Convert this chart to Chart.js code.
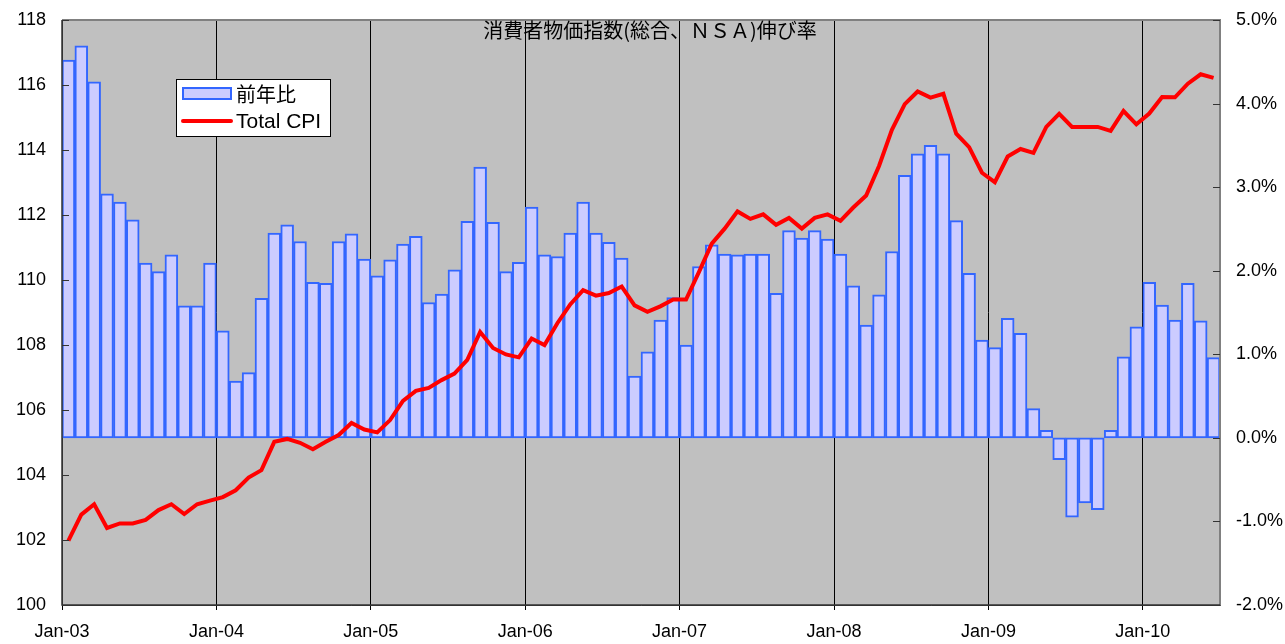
<!DOCTYPE html>
<html><head><meta charset="utf-8">
<script src="https://cdn.jsdelivr.net/npm/chart.js@4.4.1/dist/chart.umd.min.js"></script>
<style>html,body{margin:0;padding:0;background:#fff}#wrap{width:1285px;height:644px;position:relative}</style>
</head><body><div id="wrap"><canvas id="c" width="1285" height="644"></canvas></div>
<script>
const tickLabels = ['Jan-03','Jan-04','Jan-05','Jan-06','Jan-07','Jan-08','Jan-09','Jan-10'];
const titleText = '消費者物価指数(総合、ＮＳＡ)伸び率';
const legendLabels = ['前年比', 'Total CPI'];
// 前年比 (% YoY), Jan-03 .. Jun-10
const yoy = [
  4.52, 4.69, 4.26, 2.92, 2.82, 2.61, 2.09, 1.99, 2.19, 1.58, 1.58, 2.09,
  1.28, 0.68, 0.78, 1.67, 2.45, 2.55, 2.35, 1.86, 1.85, 2.35, 2.44, 2.14,
  1.94, 2.13, 2.32, 2.41, 1.62, 1.72, 2.01, 2.59, 3.24, 2.58, 1.99, 2.10,
  2.76, 2.19, 2.17, 2.45, 2.82, 2.45, 2.34, 2.15, 0.74, 1.03, 1.41, 1.68,
  1.11, 2.05, 2.31, 2.20, 2.19, 2.20, 2.20, 1.73, 2.48, 2.39, 2.48, 2.38,
  2.20, 1.82, 1.35, 1.71, 2.23, 3.14, 3.40, 3.50, 3.40, 2.60, 1.97, 1.17,
  1.08, 1.43, 1.25, 0.35, 0.09, -0.26, -0.95, -0.78, -0.86, 0.09, 0.97, 1.33,
  1.86, 1.59, 1.41, 1.85, 1.40, 0.96
];
// Total CPI index, Jan-03 .. Jun-10
const cpi = [
  101.98, 102.78, 103.10, 102.37, 102.51, 102.51, 102.62, 102.92, 103.10, 102.80, 103.10, 103.21,
  103.32, 103.53, 103.92, 104.15, 105.02, 105.11, 104.99, 104.79, 105.02, 105.23, 105.60, 105.40,
  105.31, 105.69, 106.28, 106.59, 106.68, 106.92, 107.12, 107.54, 108.40, 107.91, 107.71, 107.62,
  108.20, 108.00, 108.67, 109.25, 109.69, 109.52, 109.60, 109.80, 109.22, 109.02, 109.19, 109.40,
  109.40, 110.24, 111.12, 111.58, 112.11, 111.88, 112.02, 111.70, 111.91, 111.58, 111.91, 112.02,
  111.82, 112.23, 112.60, 113.51, 114.62, 115.41, 115.80, 115.61, 115.73, 114.50, 114.09, 113.30,
  113.01, 113.80, 114.03, 113.91, 114.71, 115.11, 114.71, 114.71, 114.71, 114.59, 115.20, 114.79,
  115.12, 115.63, 115.62, 116.04, 116.33, 116.22
];

const LATIN = '"Liberation Sans", Arial, sans-serif';
const CJK = '"Noto Sans CJK JP", "Liberation Sans", sans-serif';
const BAR_FILL = '#CCCCFF', BAR_EDGE = '#3366FF', LINE_COL = '#FF0000';

const bgPlugin = {
  id: 'bg',
  beforeDraw(chart) {
    const {ctx, chartArea: a} = chart;
    ctx.save();
    ctx.fillStyle = '#C0C0C0';
    ctx.fillRect(a.left, a.top, a.right - a.left, a.bottom - a.top);
    ctx.restore();
  }
};

const overlayPlugin = {
  id: 'overlay',
  afterDraw(chart) {
    const {ctx, chartArea: a} = chart;
    ctx.save();
    // frame
    ctx.strokeStyle = '#808080'; ctx.lineWidth = 2;
    ctx.beginPath(); ctx.moveTo(a.left, a.top); ctx.lineTo(a.right, a.top); ctx.lineTo(a.right, a.bottom); ctx.stroke();
    ctx.strokeStyle = '#333'; ctx.lineWidth = 1.5;
    ctx.beginPath(); ctx.moveTo(a.left, a.top); ctx.lineTo(a.left, a.bottom); ctx.lineTo(a.right, a.bottom); ctx.stroke();
    // inward ticks
    ctx.strokeStyle = '#333'; ctx.lineWidth = 1;
    const yl = chart.scales.y, yr = chart.scales.y1;
    yl.ticks.forEach(t => { const p = Math.round(yl.getPixelForValue(t.value)) + 0.5; ctx.beginPath(); ctx.moveTo(a.left, p); ctx.lineTo(a.left + 7, p); ctx.stroke(); });
    yr.ticks.forEach(t => { const p = Math.round(yr.getPixelForValue(t.value)) + 0.5; ctx.beginPath(); ctx.moveTo(a.right, p); ctx.lineTo(a.right - 7, p); ctx.stroke(); });
    // title
    ctx.fillStyle = '#000';
    ctx.font = '20px ' + CJK;
    ctx.textAlign = 'center'; ctx.textBaseline = 'middle';
    ctx.fillText(titleText, 650, 30);
    // legend
    ctx.fillStyle = '#fff'; ctx.fillRect(176, 79, 155, 58);
    ctx.strokeStyle = '#000'; ctx.lineWidth = 1; ctx.strokeRect(176.5, 79.5, 154, 57);
    ctx.fillStyle = BAR_FILL; ctx.fillRect(183, 88, 48, 11);
    ctx.strokeStyle = BAR_EDGE; ctx.lineWidth = 2; ctx.strokeRect(183, 88, 48, 11);
    ctx.strokeStyle = LINE_COL; ctx.lineWidth = 4; ctx.lineCap = 'round';
    ctx.beginPath(); ctx.moveTo(183, 121); ctx.lineTo(231, 121); ctx.stroke();
    ctx.fillStyle = '#000'; ctx.textAlign = 'left'; ctx.textBaseline = 'middle';
    ctx.font = '20px ' + CJK; ctx.fillText(legendLabels[0], 236, 94);
    ctx.font = '21px ' + LATIN; ctx.fillText(legendLabels[1], 236, 122);
    ctx.restore();
  }
};

new Chart(document.getElementById('c'), {
  type: 'bar',
  data: {
    datasets: [
      { type: 'line', label: legendLabels[1], data: cpi.map((v, i) => ({x: i + 0.5, y: v})), yAxisID: 'y',
        borderColor: LINE_COL, borderWidth: 4, pointRadius: 0, tension: 0, fill: false, order: 0 },
      { type: 'bar', label: legendLabels[0], data: yoy.map((v, i) => ({x: i + 0.5, y: v})), yAxisID: 'y1',
        backgroundColor: BAR_FILL, borderColor: BAR_EDGE, borderWidth: 2, borderSkipped: false,
        barPercentage: 1, categoryPercentage: 1, order: 1 }
    ]
  },
  options: {
    responsive: false, animation: false,
    layout: {padding: {top: 20, left: 0, right: 0, bottom: 0}},
    plugins: {legend: {display: false}, title: {display: false}, tooltip: {enabled: false}},
    scales: {
      x: {
        type: 'linear', min: 0, max: 90, offset: false,
        afterBuildTicks: s => { s.ticks = tickLabels.map((t, k) => ({value: k * 12})); },
        afterFit: s => { s.height = 39; s.paddingLeft = 0; s.paddingRight = 0; },
        ticks: {callback: v => tickLabels[Math.round(v / 12)], autoSkip: false, maxRotation: 0, padding: 11,
                font: {family: LATIN, size: 18}, color: '#000'},
        grid: {display: true, color: '#000', lineWidth: 1, offset: false, drawTicks: true, tickLength: 5},
        border: {display: true, color: '#333'}
      },
      y: {
        position: 'left', min: 100, max: 118,
        afterFit: s => { s.width = 62; s.paddingTop = 0; s.paddingBottom = 0; },
        ticks: {stepSize: 2, padding: 16, font: {family: LATIN, size: 18}, color: '#000'},
        grid: {display: false, drawTicks: false}, border: {display: true, color: '#333'}
      },
      y1: {
        position: 'right', min: -2, max: 5,
        afterFit: s => { s.width = 65; s.paddingTop = 0; s.paddingBottom = 0; },
        ticks: {stepSize: 1, padding: 16, callback: v => v.toFixed(1) + '%', font: {family: LATIN, size: 18}, color: '#000'},
        grid: {display: false, drawTicks: false}, border: {display: true, color: '#555'}
      }
    }
  },
  plugins: [bgPlugin, overlayPlugin]
});
</script></body></html>
